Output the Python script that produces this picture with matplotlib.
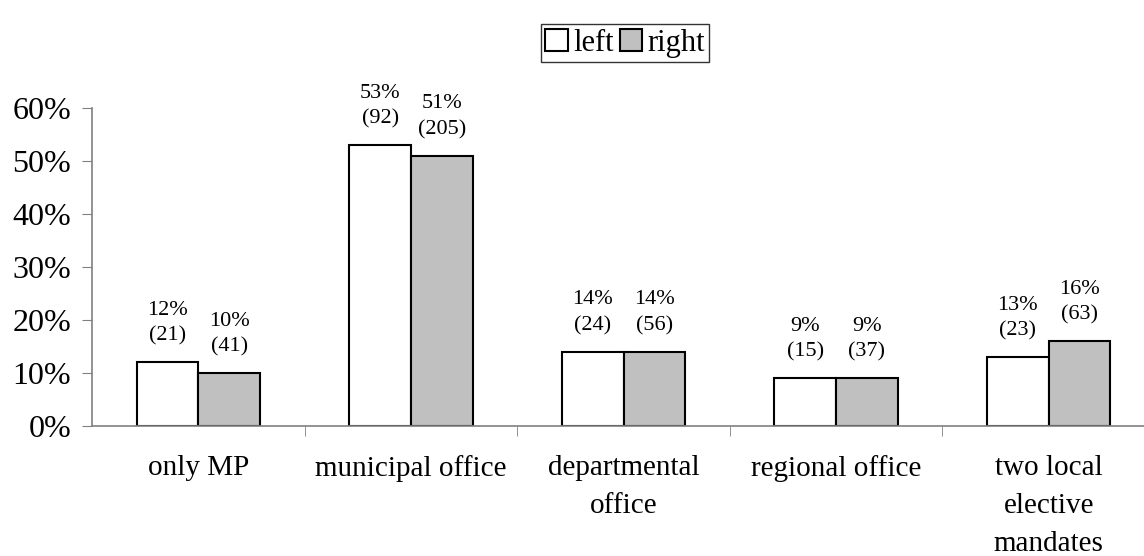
import numpy as np
import matplotlib
matplotlib.use('Agg')
import matplotlib.pyplot as plt

# Data
categories = ['only MP', 'municipal office', 'departmental\noffice',
              'regional office', 'two local\nelective\nmandates']
left_pct = [12, 53, 14, 9, 13]
right_pct = [10, 51, 14, 9, 16]
left_n = [21, 92, 24, 15, 23]
right_n = [41, 205, 56, 37, 63]
yticks = [0, 10, 20, 30, 40, 50, 60]

plt.rcParams['font.family'] = ['Liberation Serif', 'DejaVu Serif']

fig = plt.figure(figsize=(11.44, 5.56), dpi=100)
# axes extend slightly beyond the right edge, as in the reference
ax = fig.add_axes([92 / 1144, 130 / 556, 1063 / 1144, 318 / 556])

x = np.arange(len(categories))
w = 0.29
ax.bar(x - w / 2, left_pct, w, color='white', edgecolor='black', linewidth=1.5, label='left')
ax.bar(x + w / 2, right_pct, w, color='#c0c0c0', edgecolor='black', linewidth=1.5, label='right')

for i in range(len(categories)):
    ax.annotate(f'{left_pct[i]}%\n({left_n[i]})', (x[i] - w / 2, left_pct[i]),
                xytext=(0, 12), textcoords='offset points', ha='center', va='bottom',
                fontsize=16, linespacing=1.45)
    ax.annotate(f'{right_pct[i]}%\n({right_n[i]})', (x[i] + w / 2, right_pct[i]),
                xytext=(0, 12), textcoords='offset points', ha='center', va='bottom',
                fontsize=16, linespacing=1.45)

ax.set_xlim(-0.5, len(categories) - 0.5)
ax.set_ylim(0, 60)
ax.set_yticks(yticks)
ax.set_yticklabels([f'{v}%' for v in yticks], fontsize=23)

ax.set_xticks(x)
ax.set_xticklabels(categories, fontsize=21, linespacing=1.6, va='top')
ax.set_xticks(x[:-1] + 0.5, minor=True)
ax.tick_params(axis='x', which='major', length=0, pad=21)
ax.tick_params(axis='x', which='minor', length=7, color='#808080', direction='out')
ax.tick_params(axis='y', length=7, color='#808080', direction='out', pad=8)

for s in ['top', 'right']:
    ax.spines[s].set_visible(False)
for s in ['left', 'bottom']:
    ax.spines[s].set_color('#808080')
    ax.spines[s].set_linewidth(1.2)

leg = ax.legend(loc='upper center', bbox_to_anchor=(625 / 1144, 532 / 556),
                bbox_transform=fig.transFigure,
                ncol=2, fontsize=22, frameon=True, fancybox=False, edgecolor='black',
                handlelength=0.75, handleheight=0.75, handletextpad=0.15, columnspacing=0.2,
                borderpad=0.15, borderaxespad=0)
leg.get_frame().set_linewidth(1.0)

plt.savefig('out.png', dpi=100)
